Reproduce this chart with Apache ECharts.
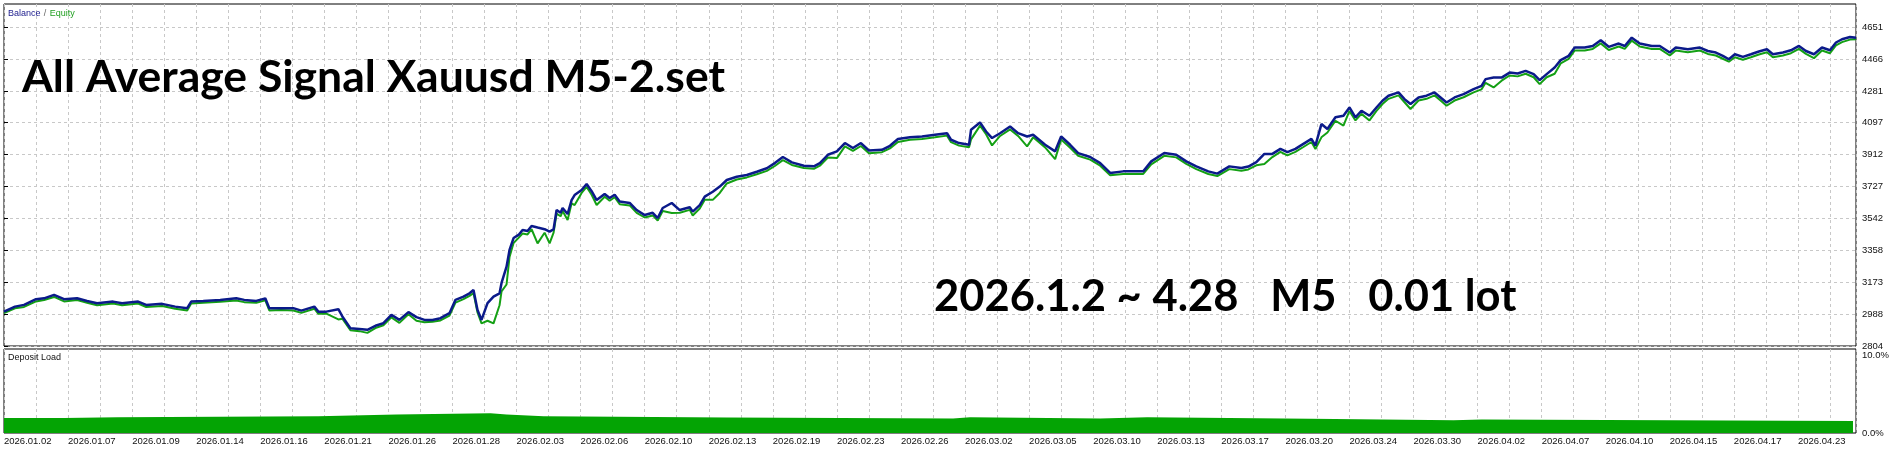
<!DOCTYPE html>
<html>
<head>
<meta charset="utf-8">
<script src="https://cdn.jsdelivr.net/npm/echarts@6/dist/echarts.min.js"></script>
<style>
  html, body { margin: 0; padding: 0; background: #fff; }
  #chart { width: 1902px; height: 450px; }
</style>
</head>
<body>
<div id="chart"></div>
<script>
// x labels (one every 64 deal units)
const dateLabels = [
  "2026.01.02", "2026.01.07", "2026.01.09", "2026.01.14", "2026.01.16", "2026.01.21",
  "2026.01.26", "2026.01.28", "2026.02.03", "2026.02.06", "2026.02.10", "2026.02.13",
  "2026.02.19", "2026.02.23", "2026.02.26", "2026.03.02", "2026.03.05", "2026.03.10",
  "2026.03.13", "2026.03.17", "2026.03.20", "2026.03.24", "2026.03.30", "2026.04.02",
  "2026.04.07", "2026.04.10", "2026.04.15", "2026.04.17", "2026.04.23"
];
const balanceTicks = [2804, 2988, 3173, 3358, 3542, 3727, 3912, 4097, 4281, 4466, 4651];
const loadTicks = [0, 10];

// [position, balance]
const balance = [
  [0,3003],[11,3032],[20,3042],[32,3075],[40,3080],[50,3100],[60,3075],[73,3080],[83,3065],[93,3052],
  [109,3061],[118,3052],[134,3061],[142,3042],[158,3048],[171,3032],[183,3023],[187,3061],[199,3065],[216,3071],
  [232,3080],[240,3071],[252,3065],[261,3080],[265,3023],[277,3023],[289,3023],[297,3009],[310,3032],[314,3003],
  [322,3003],[334,3017],[338,2975],[346,2907],[355,2903],[363,2898],[371,2921],[379,2936],[387,2984],[395,2955],
  [404,3000],[412,2971],[420,2955],[428,2955],[436,2965],[445,2994],[451,3071],[459,3090],[465,3109],[469,3128],
  [473,3013],[477,2955],[483,3052],[489,3090],[495,3109],[497,3169],[502,3263],[505,3360],[509,3429],[514,3447],
  [518,3476],[523,3470],[527,3499],[533,3490],[540,3480],[545,3466],[549,3480],[552,3591],[556,3575],[558,3603],
  [563,3568],[567,3649],[570,3678],[577,3707],[582,3742],[587,3700],[592,3649],[600,3684],[605,3661],[610,3680],
  [615,3640],[625,3632],[632,3591],[640,3562],[648,3575],[653,3545],[658,3603],[667,3632],[675,3591],[685,3607],
  [688,3582],[695,3620],[700,3669],[708,3697],[715,3727],[722,3765],[732,3784],[742,3794],[752,3813],[762,3833],
  [770,3863],[778,3898],[787,3867],[799,3848],[809,3844],[815,3863],[823,3911],[832,3931],[840,3979],[848,3950],
  [856,3979],[864,3936],[877,3940],[885,3963],[893,4002],[905,4013],[917,4017],[930,4027],[942,4036],[946,3998],
  [954,3979],[964,3969],[966,4056],[975,4098],[981,4046],[987,4008],[995,4036],[1005,4075],[1013,4036],[1022,4017],
  [1028,4027],[1040,3969],[1050,3931],[1056,4017],[1065,3969],[1073,3921],[1085,3898],[1095,3863],[1105,3806],[1118,3815],
  [1130,3815],[1138,3815],[1146,3873],[1159,3921],[1171,3911],[1181,3873],[1191,3844],[1203,3815],[1212,3802],[1224,3844],
  [1236,3834],[1243,3843],[1251,3868],[1259,3916],[1267,3916],[1275,3945],[1282,3926],[1290,3945],[1298,3974],[1306,4003],
  [1310,3964],[1316,4089],[1322,4060],[1330,4128],[1338,4137],[1344,4185],[1350,4128],[1356,4166],[1364,4137],[1371,4185],
  [1377,4224],[1383,4253],[1393,4272],[1399,4233],[1405,4205],[1413,4243],[1421,4253],[1429,4272],[1435,4243],[1441,4214],
  [1449,4243],[1458,4262],[1468,4291],[1476,4310],[1480,4349],[1488,4358],[1496,4358],[1504,4387],[1512,4382],[1520,4397],
  [1528,4378],[1534,4343],[1541,4378],[1549,4416],[1555,4459],[1563,4484],[1569,4532],[1579,4532],[1587,4541],[1595,4574],
  [1603,4536],[1613,4555],[1619,4541],[1626,4589],[1634,4555],[1646,4541],[1654,4541],[1664,4503],[1670,4532],[1682,4522],
  [1694,4532],[1702,4512],[1710,4503],[1717,4484],[1723,4464],[1729,4493],[1737,4478],[1745,4493],[1753,4509],[1761,4522],
  [1767,4493],[1777,4503],[1785,4516],[1793,4541],[1800,4512],[1808,4493],[1816,4532],[1824,4516],[1830,4561],[1836,4580],
  [1844,4593],[1850,4589]
];

// [position, equity]
const equity = [
  [0,2995],[11,3022],[20,3030],[32,3062],[40,3070],[50,3088],[60,3062],[73,3070],[83,3054],[93,3040],
  [109,3050],[118,3040],[134,3050],[142,3030],[158,3036],[171,3020],[183,3010],[187,3050],[199,3054],[216,3060],
  [232,3068],[240,3058],[252,3054],[261,3068],[265,3010],[277,3012],[289,3010],[297,2996],[310,3020],[314,2990],
  [322,2992],[334,2958],[338,2962],[346,2895],[355,2890],[363,2880],[371,2908],[379,2924],[387,2970],[395,2938],
  [404,2988],[412,2950],[420,2942],[428,2944],[436,2952],[445,2980],[451,3055],[459,3075],[465,3094],[469,3110],
  [473,2998],[477,2935],[483,2950],[489,2935],[495,3040],[497,3120],[502,3160],[505,3320],[509,3400],[514,3430],
  [518,3455],[523,3450],[527,3480],[533,3398],[540,3460],[545,3398],[549,3460],[552,3570],[556,3555],[558,3585],
  [563,3533],[567,3630],[570,3620],[577,3690],[582,3725],[587,3680],[592,3620],[600,3668],[605,3645],[610,3665],
  [615,3625],[625,3618],[632,3575],[640,3548],[648,3560],[653,3530],[658,3585],[667,3574],[675,3575],[685,3592],
  [688,3560],[695,3600],[700,3650],[708,3650],[715,3690],[722,3745],[732,3768],[742,3780],[752,3798],[762,3818],
  [770,3846],[778,3880],[787,3852],[799,3834],[809,3830],[815,3848],[823,3895],[832,3892],[840,3960],[848,3934],
  [856,3962],[864,3920],[877,3926],[885,3948],[893,3985],[905,3998],[917,4003],[930,4012],[942,4022],[946,3984],
  [954,3964],[964,3955],[966,4000],[975,4080],[981,4030],[987,3965],[995,4020],[1005,4058],[1013,4020],[1022,3960],
  [1028,4012],[1040,3954],[1050,3886],[1056,4000],[1065,3952],[1073,3905],[1085,3883],[1095,3848],[1105,3792],[1118,3800],
  [1130,3800],[1138,3800],[1146,3856],[1159,3905],[1171,3896],[1181,3858],[1191,3828],[1203,3800],[1212,3788],[1224,3828],
  [1236,3818],[1243,3826],[1251,3850],[1259,3858],[1267,3898],[1275,3928],[1282,3908],[1290,3928],[1298,3956],[1306,3985],
  [1310,3945],[1316,4012],[1322,4040],[1330,4108],[1338,4080],[1344,4165],[1350,4110],[1356,4148],[1364,4110],[1371,4165],
  [1377,4205],[1383,4235],[1393,4255],[1399,4215],[1405,4176],[1413,4225],[1421,4235],[1429,4255],[1435,4225],[1441,4195],
  [1449,4225],[1458,4244],[1468,4272],[1476,4290],[1480,4328],[1488,4301],[1496,4340],[1504,4370],[1512,4365],[1520,4380],
  [1528,4360],[1534,4320],[1541,4360],[1549,4380],[1555,4440],[1563,4466],[1569,4515],[1579,4515],[1587,4524],[1595,4556],
  [1603,4518],[1613,4538],[1619,4524],[1626,4572],[1634,4538],[1646,4524],[1654,4524],[1664,4486],[1670,4515],[1682,4505],
  [1694,4515],[1702,4495],[1710,4486],[1717,4467],[1723,4450],[1729,4476],[1737,4461],[1745,4476],[1753,4492],[1761,4505],
  [1767,4476],[1777,4486],[1785,4499],[1793,4524],[1800,4495],[1808,4470],[1816,4515],[1824,4499],[1830,4544],[1836,4563],
  [1844,4578],[1850,4580]
];

// [position, deposit load %]
const depositLoad = [
  [0,1.78],[60,1.88],[114,2.0],[314,2.2],[392,2.35],[486,2.2],[502,2.0],[539,1.95],[576,1.84],
  [722,1.73],[948,1.88],[965,1.73],[1095,1.88],[1142,1.7],[1305,1.52],[1448,1.62],[1476,1.42],[1847,1.42]
];

const gridLine = { show: true, lineStyle: { color: "#c8c8c8", width: 1, type: [3, 3] } };
const labelFont = "Liberation Sans";

const chart = echarts.init(document.getElementById("chart"));
chart.setOption({
  animation: false,
  backgroundColor: "#fff",
  grid: [
    { left: 4, top: 4, width: 1852, height: 342, show: true, borderColor: "#000", borderWidth: 1 },
    { left: 4, top: 349, width: 1852, height: 84, show: true, borderColor: "#000", borderWidth: 1 }
  ],
  xAxis: [
    {
      gridIndex: 0, type: "value", min: 0, max: 1850, interval: 32,
      axisLine: { show: false }, axisTick: { show: false }, axisLabel: { show: false },
      splitLine: gridLine
    },
    {
      gridIndex: 1, type: "value", min: 0, max: 1850, interval: 32,
      axisLine: { show: false }, axisTick: { show: false },
      axisLabel: {
        show: true, align: "left", margin: 3, fontSize: 9.5, fontFamily: labelFont, color: "#111",
        formatter: function (v) { return v % 64 === 0 ? (dateLabels[v / 64] || "") : ""; }
      },
      splitLine: gridLine
    }
  ],
  yAxis: [
    {
      gridIndex: 0, type: "value", position: "right", min: 2804, max: 4784,
      axisLine: { show: false },
      axisTick: { show: true, customValues: balanceTicks, length: 4, lineStyle: { color: "#000" } },
      axisLabel: {
        customValues: balanceTicks, margin: 6, fontSize: 9.5, fontFamily: labelFont, color: "#111",
        formatter: function (v) { return String(Math.round(v)); }
      },
      splitLine: gridLine
    },
    {
      gridIndex: 1, type: "value", position: "right", min: 0, max: 10,
      axisLine: { show: false },
      axisTick: { show: false, customValues: loadTicks },
      axisLabel: {
        customValues: loadTicks, margin: 6, fontSize: 9.5, fontFamily: labelFont, color: "#111",
        formatter: function (v) { return v === 0 ? "{b|0.0%}" : "{a|10.0%}"; },
        rich: { a: { padding: [12, 0, 0, 0] }, b: {} }
      },
      splitLine: { show: false }
    }
  ],
  series: [
    {
      name: "Equity", type: "line", xAxisIndex: 0, yAxisIndex: 0, data: equity,
      showSymbol: false, lineStyle: { color: "#14a014", width: 2 }, z: 2
    },
    {
      name: "Balance", type: "line", xAxisIndex: 0, yAxisIndex: 0, data: balance,
      showSymbol: false, lineStyle: { color: "#0b1a8a", width: 2.5 }, z: 3
    },
    {
      name: "Deposit Load", type: "line", xAxisIndex: 1, yAxisIndex: 1, data: depositLoad,
      step: "end", showSymbol: false, lineStyle: { width: 0 },
      areaStyle: { color: "#04a404", opacity: 1 }, z: 2
    }
  ],
  graphic: [
    {
      type: "text", left: 8, top: 8, z: 10,
      style: {
        text: "{b|Balance} {s|/} {e|Equity}",
        rich: {
          b: { fill: "#1a1a8c", font: "9px " + labelFont },
          s: { fill: "#666", font: "9px " + labelFont },
          e: { fill: "#22a022", font: "9px " + labelFont }
        }
      }
    },
    {
      type: "text", left: 8, top: 353, z: 10,
      style: { text: "Deposit Load", fill: "#111", font: "9px " + labelFont }
    },
    {
      type: "text", x: 22, y: 78, z: 10,
      style: {
        text: "All Average Signal Xauusd M5-2.set",
        fill: "#000", font: "bold 44.5px Lato", verticalAlign: "middle"
      }
    },
    {
      type: "text", x: 934, y: 297, z: 10,
      style: {
        text: "2026.1.2 ~ 4.28   M5   0.01 lot",
        fill: "#000", font: "bold 43.5px Lato", verticalAlign: "middle"
      }
    }
  ]
});
</script>
</body>
</html>
